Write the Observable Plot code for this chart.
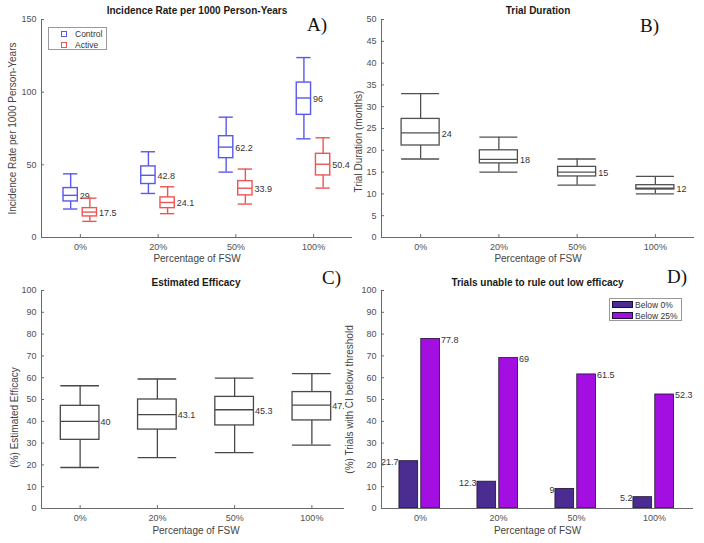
<!DOCTYPE html>
<html><head><meta charset="utf-8">
<script src="https://cdn.jsdelivr.net/npm/d3@7"></script>
<script src="https://cdn.jsdelivr.net/npm/@observablehq/plot@0.6"></script>
<style>
body{margin:0;background:#fff;}
#wrap{position:relative;width:704px;height:543px;overflow:hidden;font-family:"Liberation Sans",Arial,sans-serif;background:#fff;}
.panel{position:absolute;}
.letter{position:absolute;font-family:"Liberation Serif","Times New Roman",serif;font-size:19px;color:#111;line-height:1;}
.legend{position:absolute;background:#fff;border:1px solid #999;font-size:8.5px;color:#333;box-sizing:border-box;}
.legend .row{position:absolute;left:0;display:flex;align-items:center;white-space:nowrap;}
</style></head><body><div id="wrap"></div>
<script>
// ---------- data ----------
const categories = ["0%", "20%", "50%", "100%"];
const categoryIndex = [1, 2, 3, 4];

// Panel A: incidence per 1000 PY, [low whisker, Q1, median, Q3, high whisker]
const incidenceControl = [[19.6, 24.8, 29, 34, 43.8], [30.3, 36.8, 42.8, 48.9, 59], [45, 54.6, 62.2, 69.7, 82.8], [67.9, 84.4, 96, 106.6, 123.8]];
const incidenceActive = [[11.1, 14.5, 17.5, 20.2, 27.1], [16.4, 20.2, 24.1, 27.6, 34.9], [23, 29, 33.9, 38.8, 47.1], [34, 42.7, 50.4, 57.6, 68.6]];
const incidenceControlLabels = ["29", "42.8", "62.2", "96"];
const incidenceActiveLabels = ["17.5", "24.1", "33.9", "50.4"];
const incidenceTicks = [0, 50, 100, 150];

// Panel B: trial duration (months)
const durationStats = [[18, 21.1, 24, 27.2, 33], [15, 17, 17.9, 20, 23], [12, 14, 15, 16.2, 18], [10, 11, 11.3, 12, 14]];
const durationLabels = ["24", "18", "15", "12"];
const durationTicks = [0, 5, 10, 15, 20, 25, 30, 35, 40, 45, 50];

// Panel C: estimated efficacy (%)
const efficacyStats = [[18.8, 31.5, 40, 47.1, 56.3], [23.3, 36.2, 43.1, 50, 59.4], [25.6, 38.1, 45.3, 51.2, 59.8], [29.1, 40.4, 47.4, 53.4, 61.9]];
const efficacyLabels = ["40", "43.1", "45.3", "47.4"];
const percentTicks = [0, 10, 20, 30, 40, 50, 60, 70, 80, 90, 100];

// Panel D: trials unable to rule out low efficacy (%)
const seriesNames = ["Below 0%", "Below 25%"];
const below0 = [21.7, 12.3, 9, 5.2];
const below25 = [77.8, 69, 61.5, 52.3];
const below0Labels = ["21.7", "12.3", "9", "5.2"];
const below25Labels = ["77.8", "69", "61.5", "52.3"];

// ---------- styling ----------
const FONT = "Liberation Sans, Arial, sans-serif";
const AXIS = "#6a6a6a", TICKTXT = "#505050", LABEL = "#444", TITLE = "#1a1a1a";
const wrap = document.getElementById("wrap");

function place(el, left, top) {
  el.classList.add("panel");
  el.style.left = left + "px";
  el.style.top = top + "px";
  wrap.appendChild(el);
}

function toRows(stats, labels, offset) {
  return stats.map((s, i) => ({pos: categoryIndex[i] + offset, low: s[0], q1: s[1], med: s[2], q3: s[3], high: s[4], label: labels[i]}));
}

function boxMarks(rows, stroke, half, sw, labelDx = 2) {
  const xa = d => d.pos - half, xb = d => d.pos + half;
  return [
    Plot.ruleX(rows, {x: "pos", y1: "low", y2: "q1", stroke, strokeWidth: sw}),
    Plot.ruleX(rows, {x: "pos", y1: "q3", y2: "high", stroke, strokeWidth: sw}),
    Plot.ruleY(rows, {y: "low", x1: xa, x2: xb, stroke, strokeWidth: sw}),
    Plot.ruleY(rows, {y: "high", x1: xa, x2: xb, stroke, strokeWidth: sw}),
    Plot.rect(rows, {x1: xa, x2: xb, y1: "q1", y2: "q3", fill: "none", stroke, strokeWidth: sw}),
    Plot.ruleY(rows, {y: "med", x1: xa, x2: xb, stroke, strokeWidth: sw}),
    Plot.text(rows, {x: xb, y: "med", text: "label", textAnchor: "start", lineAnchor: "middle", dx: labelDx, dy: 1, fontSize: 9, fill: "#333"})
  ];
}

function axes(yTicks, title, ylabel, ylabelDx, ylabelDy, titleDy, xlabelDy) {
  return [
    Plot.ruleY([0], {stroke: AXIS, strokeWidth: 1}),
    Plot.ruleX([0.5], {stroke: AXIS, strokeWidth: 1}),
    Plot.axisX({ticks: categoryIndex, tickFormat: i => categories[i - 1], tickSize: -3, tickPadding: 9, fontSize: 9, stroke: AXIS, fill: TICKTXT, label: null}),
    Plot.axisY({ticks: yTicks, tickSize: -3, tickPadding: 8, fontSize: 9, stroke: AXIS, fill: TICKTXT, label: null}),
    Plot.text([title], {text: d => d, frameAnchor: "top", lineAnchor: "middle", textAnchor: "middle", dy: titleDy, fontSize: 10, fontWeight: "bold", fill: TITLE}),
    Plot.text(["Percentage of FSW"], {text: d => d, frameAnchor: "bottom", lineAnchor: "middle", textAnchor: "middle", dy: xlabelDy, fontSize: 10, fill: LABEL}),
    Plot.text([ylabel], {text: d => d, frameAnchor: "left", rotate: -90, textAnchor: "middle", lineAnchor: "middle", dx: ylabelDx, dy: ylabelDy, fontSize: 10, fill: LABEL})
  ];
}

const baseStyle = {fontFamily: FONT, background: "white", overflow: "hidden"};

// ---------- Panel A ----------
const chartA = Plot.plot({
  width: 352, height: 264, marginLeft: 41, marginRight: 0, marginTop: 19, marginBottom: 27,
  style: baseStyle,
  x: {domain: [0.5, 4.5], axis: null},
  y: {domain: [0, 150], axis: null},
  marks: [
    ...axes(incidenceTicks, "Incidence Rate per 1000 Person-Years", "Incidence Rate per 1000 Person-Years", -28.5, 0, -8.5, 21.3),
    ...boxMarks(toRows(incidenceControl, incidenceControlLabels, -0.125), "#5858ee", 0.092, 1.4),
    ...boxMarks(toRows(incidenceActive, incidenceActiveLabels, 0.122), "#ee5454", 0.092, 1.4)
  ]
});
place(chartA, 0, 0);

// ---------- Panel B ----------
const chartB = Plot.plot({
  width: 352, height: 264, marginLeft: 29, marginRight: 10, marginTop: 19, marginBottom: 27,
  style: baseStyle,
  x: {domain: [0.5, 4.5], axis: null},
  y: {domain: [0, 50], axis: null},
  marks: [
    ...axes(durationTicks, "Trial Duration", "Trial Duration (months)", -23, 13, -8.5, 21.3),
    ...boxMarks(toRows(durationStats, durationLabels, 0), "#505050", 0.243, 1.3)
  ]
});
place(chartB, 352, 0);

// ---------- Panel C ----------
const chartC = Plot.plot({
  width: 352, height: 279, marginLeft: 41, marginRight: 2, marginTop: 26, marginBottom: 35,
  style: baseStyle,
  x: {domain: [0.5, 4.5], axis: null},
  y: {domain: [0, 100], axis: null},
  marks: [
    ...axes(percentTicks, "Estimated Efficacy", "(%) Estimated Efficacy", -27, 18, -8, 22),
    ...boxMarks(toRows(efficacyStats, efficacyLabels, 0), "#484848", 0.25, 1.3, 1)
  ]
});
place(chartC, 0, 264);

// ---------- Panel D ----------
const barColors = ["#4b2d91", "#a30fe0"];
const barRows = [];
categoryIndex.forEach((c, i) => {
  barRows.push({pos: c, series: seriesNames[0], value: below0[i], label: below0Labels[i], a: -0.27, b: -0.03});
  barRows.push({pos: c, series: seriesNames[1], value: below25[i], label: below25Labels[i], a: 0.01, b: 0.25});
});
const chartD = Plot.plot({
  width: 360, height: 279, marginLeft: 37, marginRight: 11, marginTop: 26, marginBottom: 35,
  style: baseStyle,
  x: {domain: [0.5, 4.5], axis: null},
  y: {domain: [0, 100], axis: null},
  color: {domain: seriesNames, range: barColors},
  marks: [
    Plot.rectY(barRows, {x1: d => d.pos + d.a, x2: d => d.pos + d.b, y: "value", fill: "series", stroke: "#1c1030", strokeWidth: 0.8}),
    Plot.text(barRows.filter(d => d.series === seriesNames[0]), {x: d => d.pos + d.a, y: "value", text: "label", textAnchor: "end", lineAnchor: "middle", dx: -1, dy: 1, fontSize: 9, fill: "#333"}),
    Plot.text(barRows.filter(d => d.series === seriesNames[1]), {x: d => d.pos + d.b, y: "value", text: "label", textAnchor: "start", lineAnchor: "middle", dx: 1, dy: 1, fontSize: 9, fill: "#333"}),
    ...axes(percentTicks, "Trials unable to rule out low efficacy", "(%) Trials with CI below threshold", -32, 0, -8, 22)
  ]
});
place(chartD, 344, 264);

// ---------- legends ----------
function legendA() {
  const lg = document.createElement("div");
  lg.className = "legend";
  Object.assign(lg.style, {left: "48px", top: "27px", width: "59px", height: "23px"});
  const items = [["Control", "#5858ee"], ["Active", "#ee5454"]];
  items.forEach(([name, col], i) => {
    const r = document.createElement("div");
    r.className = "row";
    Object.assign(r.style, {top: (i === 0 ? 1 : 12) + "px", left: "12px", height: "9px"});
    const sw = document.createElement("span");
    Object.assign(sw.style, {display: "inline-block", width: "4px", height: "4px", border: "1.2px solid " + col, marginRight: "8px"});
    const t = document.createElement("span");
    t.textContent = name;
    r.appendChild(sw); r.appendChild(t);
    lg.appendChild(r);
  });
  wrap.appendChild(lg);
}
function legendD() {
  const lg = document.createElement("div");
  lg.className = "legend";
  Object.assign(lg.style, {left: "609px", top: "298px", width: "73px", height: "23px"});
  seriesNames.forEach((name, i) => {
    const r = document.createElement("div");
    r.className = "row";
    Object.assign(r.style, {top: (i === 0 ? 1 : 12) + "px", left: "2px", height: "9px"});
    const sw = document.createElement("span");
    Object.assign(sw.style, {display: "inline-block", width: "21px", height: "7px", background: barColors[i], border: "1px solid #1c1030", boxSizing: "border-box", marginRight: "2px"});
    const t = document.createElement("span");
    t.textContent = name;
    r.appendChild(sw); r.appendChild(t);
    lg.appendChild(r);
  });
  wrap.appendChild(lg);
}
legendA();
legendD();

// ---------- panel letters ----------
[["A)", 307, 15], ["B)", 640, 16], ["C)", 322, 268], ["D)", 667, 267]].forEach(([t, l, tp]) => {
  const d = document.createElement("div");
  d.className = "letter";
  d.textContent = t;
  d.style.left = l + "px";
  d.style.top = tp + "px";
  wrap.appendChild(d);
});
</script></body></html>
